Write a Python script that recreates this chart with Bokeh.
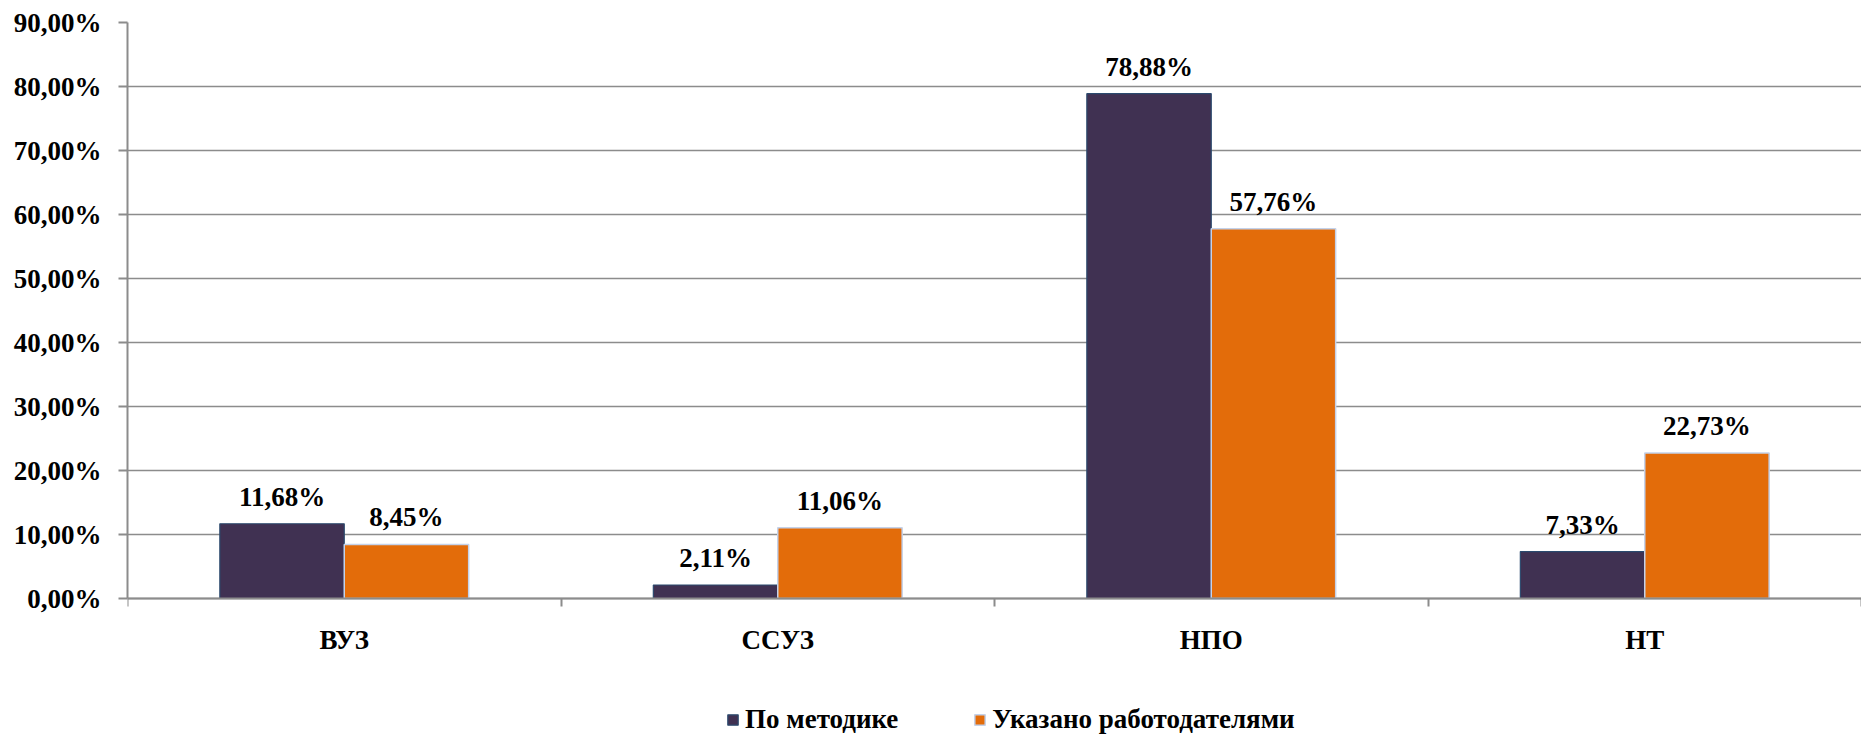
from bokeh.plotting import figure
from bokeh.models import Range1d, FixedTicker, ColumnDataSource, Legend, LegendItem
from bokeh.embed import file_html
from bokeh.resources import INLINE
from bokeh.core.properties import value

categories = ["ВУЗ", "ССУЗ", "НПО", "НТ"]
series_names = ["По методике", "Указано работодателями"]
po_metodike = [11.68, 2.11, 78.88, 7.33]
ukazano = [8.45, 11.06, 57.76, 22.73]
y_ticks = [0, 10, 20, 30, 40, 50, 60, 70, 80, 90]
y_tick_labels = ["0,00%", "10,00%", "20,00%", "30,00%", "40,00%",
                 "50,00%", "60,00%", "70,00%", "80,00%", "90,00%"]

FONT = "Liberation Serif"
FS = "27px"
BAR_W = 0.287
DARK = "#403152"
ORANGE = "#E36C0A"
GRID = "#8c8c8c"

W, H = 1861, 736
LEFT, TOP, ZERO_Y = 127, 22, 598
ppu = (ZERO_Y - TOP) / 90.0
y_start = -(H - ZERO_Y) / ppu

n = len(categories)
centers = [i + 0.5 for i in range(n)]

def fmt(v):
    return f"{v:.2f}%".replace(".", ",")

src1 = ColumnDataSource(dict(x=[c - BAR_W / 2 for c in centers], top=po_metodike,
                             lab=[fmt(v) for v in po_metodike]))
src2 = ColumnDataSource(dict(x=[c + BAR_W / 2 for c in centers], top=ukazano,
                             lab=[fmt(v) for v in ukazano]))

p = figure(width=W, height=H, output_backend="svg", toolbar_location=None,
           x_range=Range1d(0, n), y_range=Range1d(y_start, 90),
           min_border_left=LEFT, min_border_top=TOP, min_border_bottom=0,
           min_border_right=0)
p.outline_line_color = None
p.background_fill_color = "white"

r1 = p.vbar(x="x", top="top", bottom=0, width=BAR_W, source=src1, fill_color=DARK,
            line_color="#2b4a6e", line_width=1.2)
r2 = p.vbar(x="x", top="top", bottom=0, width=BAR_W, source=src2, fill_color=ORANGE,
            line_color="#c4d2ea", line_width=1.5)

for s in (src1, src2):
    p.text(x="x", y="top", text="lab", source=s, text_align="center",
           text_baseline="alphabetic", y_offset=-27,
           text_font=value(FONT), text_font_style="bold",
           text_font_size=FS, text_color="black")

# Y axis
p.yaxis.ticker = FixedTicker(ticks=y_ticks)
p.yaxis.bounds = (0, 90)
p.yaxis.major_label_overrides = {t: l for t, l in zip(y_ticks, y_tick_labels)}
p.yaxis.major_label_text_font = FONT
p.yaxis.major_label_text_font_style = "bold"
p.yaxis.major_label_text_font_size = FS
p.yaxis.major_label_text_color = "black"
p.yaxis.major_tick_out = 9
p.yaxis.major_tick_in = 0
p.yaxis.minor_tick_line_color = None
p.yaxis.major_label_standoff = 17
p.yaxis.axis_line_color = GRID
p.yaxis.axis_line_width = 2
p.yaxis.major_tick_line_color = GRID
p.yaxis.major_tick_line_width = 2

# X axis at y=0 inside the frame: labels at centers, ticks at boundaries
p.xaxis.fixed_location = 0
p.xaxis.ticker = FixedTicker(ticks=centers, minor_ticks=list(range(n + 1)))
p.xaxis.major_label_overrides = {c: cat for c, cat in zip(centers, categories)}
p.xaxis.major_label_text_font = FONT
p.xaxis.major_label_text_font_style = "bold"
p.xaxis.major_label_text_font_size = FS
p.xaxis.major_label_text_color = "black"
p.xaxis.major_tick_out = 0
p.xaxis.major_tick_in = 0
p.xaxis.major_tick_line_color = None
p.xaxis.minor_tick_out = 8
p.xaxis.minor_tick_in = 0
p.xaxis.minor_tick_line_color = GRID
p.xaxis.minor_tick_line_width = 2
p.xaxis.major_label_standoff = 18
p.xaxis.axis_line_color = GRID
p.xaxis.axis_line_width = 2

p.xgrid.grid_line_color = None
p.ygrid.ticker = FixedTicker(ticks=y_ticks)
p.ygrid.grid_line_color = GRID
p.ygrid.grid_line_width = 1.6

legend = Legend(items=[LegendItem(label=series_names[0], renderers=[r1]),
                       LegendItem(label=series_names[1], renderers=[r2])],
                orientation="horizontal", location=(599, 1),
                glyph_width=13, glyph_height=13, label_standoff=6,
                spacing=75, padding=0, margin=0,
                label_text_font=FONT, label_text_font_style="bold",
                label_text_font_size=FS, label_text_color="black",
                border_line_color=None, background_fill_alpha=0)
p.add_layout(legend, "center")

open("out.html", "w").write(file_html(p, INLINE))
